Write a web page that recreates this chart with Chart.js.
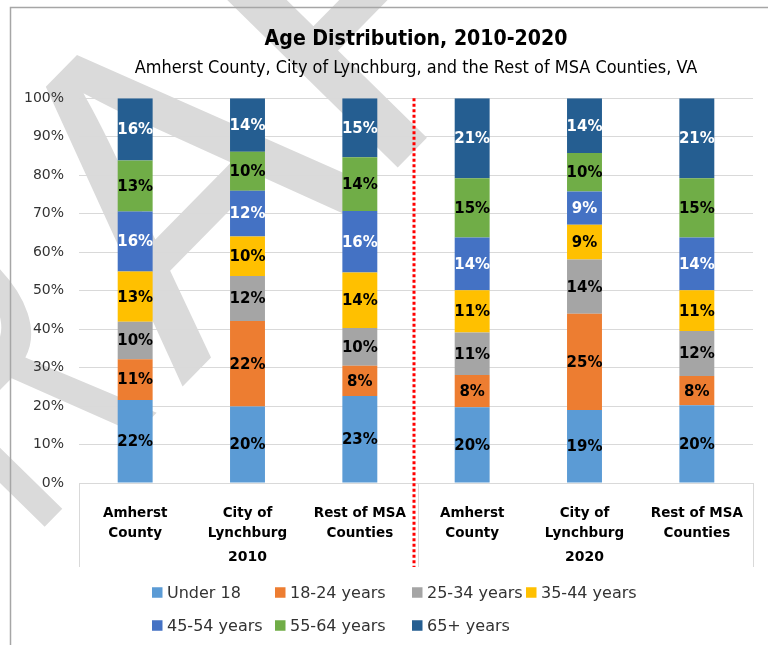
<!DOCTYPE html>
<html>
<head>
<meta charset="utf-8">
<title>Age Distribution, 2010-2020</title>
<script src="https://cdn.jsdelivr.net/npm/chart.js@4/dist/chart.umd.min.js"></script>
<style>
  html, body { margin: 0; padding: 0; background: #fff; }
  canvas { display: block; }
</style>
</head>
<body>
<canvas id="chart" width="768" height="645"></canvas>
<script>
// Places shown in each year group (two-line axis labels)
const places = [['Amherst', 'County'], ['City of', 'Lynchburg'], ['Rest of MSA', 'Counties']];
const years = ['2010', '2020'];
const categories = [...places, ...places];

// Share of population by age group (%), one value per bar:
// Amherst 2010, Lynchburg 2010, Rest of MSA 2010, Amherst 2020, Lynchburg 2020, Rest of MSA 2020
const under18   = [21.6, 19.9, 22.6, 19.7, 19.0, 20.2];
const age18to24 = [10.6, 22.2,  7.9,  8.4, 25.0,  7.6];
const age25to34 = [ 9.7, 11.7,  9.8, 11.0, 14.1, 11.7];
const age35to44 = [13.1, 10.3, 14.4, 11.0,  9.0, 10.6];
const age45to54 = [15.6, 11.9, 16.0, 13.7,  8.7, 13.7];
const age55to64 = [13.2, 10.1, 14.0, 15.4, 10.0, 15.4];
const age65plus = [16.2, 13.9, 15.3, 20.8, 14.2, 20.8];

const seriesNames = ['Under 18', '18-24 years', '25-34 years', '35-44 years', '45-54 years', '55-64 years', '65+ years'];
const seriesValues = [under18, age18to24, age25to34, age35to44, age45to54, age55to64, age65plus];
const seriesColors = ['#5b9bd5', '#ed7d31', '#a5a5a5', '#ffc000', '#4472c4', '#70ad47', '#255e91'];
const labelColors  = ['#000', '#000', '#000', '#000', '#fff', '#000', '#fff'];

const titleText = 'Age Distribution, 2010-2020';
const subtitleText = 'Amherst County, City of Lynchburg, and the Rest of MSA Counties, VA';
const watermarkText = 'DRAFT';

const narrowFamily = "'Liberation Sans Narrow', 'DejaVu Sans Condensed', 'Roboto', sans-serif";

// size a font so a string takes a given width
function fitSize(text, weight, family, width) {
  const c = document.createElement('canvas').getContext('2d');
  c.font = weight + ' 100px ' + family;
  return 100 * width / c.measureText(text).width;
}
const titleSize = Math.min(26, fitSize(titleText, 'bold', narrowFamily, 303));
const subSize = Math.min(19, fitSize(subtitleText, 'normal', narrowFamily, 563));
const padTop = 8;
const titleLH = titleSize * 1.2, subLH = subSize * 1.2;
const titleCenter = 40, subCenter = 68, plotTop = 98.3;

// white page, slanted watermark and the outer frame
const backdrop = {
  id: 'backdrop',
  beforeDraw(chart) {
    const ctx = chart.ctx;
    ctx.save();
    ctx.fillStyle = '#fff';
    ctx.fillRect(0, 0, chart.width, chart.height);

    // watermark letters laid along a baseline rising at 45.5 degrees;
    // spans are ink extents along that baseline (null keeps the natural width)
    const spans = [[-490, null], [-197, -33], [0, 282], [306, null], [560, null]];
    ctx.fillStyle = '#dadada';
    ctx.font = '447px "Liberation Sans", Arial, sans-serif';
    ctx.textBaseline = 'alphabetic';
    ctx.translate(182, 387);
    ctx.rotate(-45.5 * Math.PI / 180);
    [...watermarkText].forEach((ch, i) => {
      const m = ctx.measureText(ch);
      const inkL = -m.actualBoundingBoxLeft, inkR = m.actualBoundingBoxRight;
      const [from, to] = spans[i];
      const sx = to === null ? 1 : (to - from) / (inkR - inkL);
      ctx.save();
      ctx.translate(from - inkL * sx, 0);
      ctx.scale(sx, 1);
      ctx.fillText(ch, 0, 0);
      ctx.restore();
    });
    ctx.restore();

    ctx.save();
    ctx.strokeStyle = '#a6a6a6';
    ctx.lineWidth = 1.5;
    ctx.strokeRect(10.5, 7.5, chart.width + 20, chart.height + 20);
    ctx.restore();
  }
};

// percentage printed in the middle of every segment
const segmentLabels = {
  id: 'segmentLabels',
  afterDatasetsDraw(chart) {
    const ctx = chart.ctx;
    ctx.save();
    ctx.font = 'bold 15px "DejaVu Sans", sans-serif';
    ctx.textAlign = 'center';
    ctx.textBaseline = 'middle';
    chart.data.datasets.forEach((ds, i) => {
      const meta = chart.getDatasetMeta(i);
      ctx.fillStyle = labelColors[i];
      meta.data.forEach((bar, j) => {
        const p = bar.getProps(['x', 'y', 'base'], true);
        ctx.fillText(Math.round(ds.data[j]) + '%', p.x, (p.y + p.base) / 2 + 1);
      });
    });
    ctx.restore();
  }
};

// year groups, dividers and the legend below the axis
const groupsAndLegend = {
  id: 'groupsAndLegend',
  afterDraw(chart) {
    const ctx = chart.ctx;
    const xs = chart.scales.x;
    const area = chart.chartArea;
    const mid = (xs.getPixelForValue(2) + xs.getPixelForValue(3)) / 2;
    ctx.save();

    // group dividers on the axis
    ctx.strokeStyle = '#d9d9d9';
    ctx.lineWidth = 1;
    [area.left, mid + 2, area.right].forEach(x => {
      const px = Math.round(x) + 0.5;
      ctx.beginPath();
      ctx.moveTo(px, area.bottom);
      ctx.lineTo(px, area.bottom + 84);
      ctx.stroke();
    });

    // red dotted split between the two years
    ctx.strokeStyle = '#ff0000';
    ctx.lineWidth = 3;
    ctx.setLineDash([3, 2.5]);
    ctx.beginPath();
    ctx.moveTo(mid - 2, area.top);
    ctx.lineTo(mid - 2, area.bottom + 84);
    ctx.stroke();
    ctx.setLineDash([]);

    // year labels
    ctx.fillStyle = '#000';
    ctx.font = 'bold 14px "DejaVu Sans", sans-serif';
    ctx.textAlign = 'center';
    ctx.textBaseline = 'middle';
    years.forEach((yr, g) => {
      ctx.fillText(yr, xs.getPixelForValue(g * 3 + 1), area.bottom + 74);
    });

    // legend in two rows
    const cols = [152, 275, 412, 526];
    const rows = [592.5, 625.5];
    ctx.font = '16px "DejaVu Sans", sans-serif';
    ctx.textAlign = 'left';
    chart.data.datasets.forEach((ds, i) => {
      const x = cols[i % 4];
      const y = rows[Math.floor(i / 4)];
      ctx.fillStyle = ds.backgroundColor;
      ctx.fillRect(x, y - 5.25, 10.5, 10.5);
      ctx.fillStyle = '#333';
      ctx.fillText(ds.label, x + 15, y + 1);
    });
    ctx.restore();
  }
};

new Chart(document.getElementById('chart'), {
  type: 'bar',
  data: {
    labels: categories,
    datasets: seriesNames.map((name, i) => ({
      label: name,
      data: seriesValues[i],
      backgroundColor: seriesColors[i],
      borderWidth: 0,
      categoryPercentage: 1,
      barPercentage: 0.311
    }))
  },
  options: {
    responsive: false,
    animation: false,
    devicePixelRatio: 1,
    layout: { padding: { top: padTop, left: 0, right: 15, bottom: 0 } },
    plugins: {
      legend: { display: false },
      tooltip: { enabled: false },
      title: {
        display: true,
        text: titleText,
        fullSize: false,
        color: '#000',
        font: { family: narrowFamily, size: titleSize, weight: 'bold', lineHeight: 1.2 },
        padding: { top: titleCenter - padTop - titleLH / 2, bottom: 0 }
      },
      subtitle: {
        display: true,
        text: subtitleText,
        fullSize: false,
        color: '#000',
        font: { family: narrowFamily, size: subSize, weight: 'normal', lineHeight: 1.2 },
        padding: {
          top: subCenter - subLH / 2 - (titleCenter + titleLH / 2),
          bottom: plotTop - (subCenter + subLH / 2)
        }
      }
    },
    scales: {
      x: {
        stacked: true,
        grid: { display: false },
        border: { display: true, color: '#d9d9d9', width: 1 },
        ticks: {
          color: '#000',
          padding: 12,
          maxRotation: 0,
          autoSkip: false,
          font: { family: 'DejaVu Sans', size: 13.5, weight: 'bold', lineHeight: '20px' }
        },
        afterFit(scale) { scale.height = 162; }
      },
      y: {
        stacked: true,
        min: 0,
        max: 100,
        grid: { color: '#d9d9d9', lineWidth: 1, drawTicks: false },
        border: { display: false },
        ticks: {
          stepSize: 10,
          padding: 15,
          color: '#333',
          font: { family: 'DejaVu Sans', size: 14 },
          callback: v => v + '%'
        },
        afterFit(scale) { scale.width = 79; }
      }
    }
  },
  plugins: [backdrop, segmentLabels, groupsAndLegend]
});
</script>
</body>
</html>
